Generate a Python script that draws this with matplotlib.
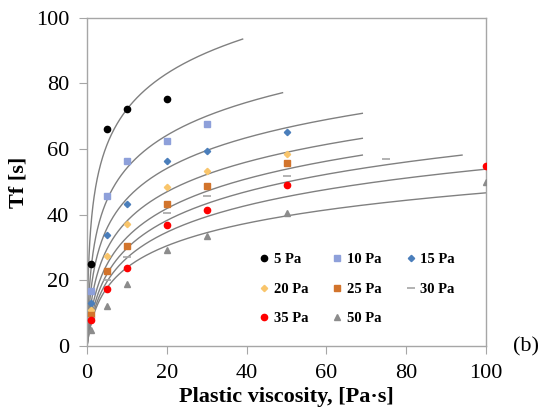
import numpy as np
import matplotlib
matplotlib.use("Agg")
import matplotlib.pyplot as plt

plt.rcParams['font.family'] = ['Liberation Serif', 'DejaVu Serif']

# measured points: plastic viscosity [Pa.s] vs flow time Tf [s]
x_5 = [1, 5, 10, 20]
y_5 = [25.0, 66.2, 72.2, 75.2]
x_10 = [1, 5, 10, 20, 30]
y_10 = [16.8, 45.8, 56.3, 62.6, 67.6]
x_15 = [1, 5, 10, 20, 30, 50]
y_15 = [13.0, 33.8, 43.3, 56.5, 59.5, 65.2]
x_20 = [1, 5, 10, 20, 30, 50]
y_20 = [11.0, 27.4, 37.1, 48.6, 53.4, 58.5]
x_25 = [1, 5, 10, 20, 30, 50]
y_25 = [9.5, 22.9, 30.5, 43.3, 48.9, 55.7]
x_30 = [1, 5, 10, 20, 30, 50, 75]
y_30 = [8.5, 20.1, 27.2, 40.5, 45.7, 51.8, 56.9]
x_35 = [1, 5, 10, 20, 30, 50, 100]
y_35 = [7.9, 17.4, 23.9, 36.9, 41.5, 49.1, 55.0]
x_50 = [1, 5, 10, 20, 30, 50, 100]
y_50 = [5.0, 12.3, 18.9, 29.3, 33.5, 40.4, 50.1]

labels = ['5 Pa', '10 Pa', '15 Pa', '20 Pa', '25 Pa', '30 Pa', '35 Pa', '50 Pa']

# model curves  Tf = p * ln(1 + mu / k), drawn up to mu_end
curve_p = [15.8, 14.6, 13.7, 13.4, 13.5, 13.25, 12.3, 10.3]
curve_k = [0.105, 0.249, 0.392, 0.618, 0.939, 1.178, 1.266, 1.086]
curve_end = [39, 49, 69, 69, 69, 94, 100, 100]

series = [(x_5, y_5), (x_10, y_10), (x_15, y_15), (x_20, y_20),
          (x_25, y_25), (x_30, y_30), (x_35, y_35), (x_50, y_50)]
styles = [
    dict(marker='o', color='black', ms=4.5),
    dict(marker='s', color='#8EA0DA', ms=4.5),
    dict(marker='D', color='#4A7EBB', ms=3.2),
    dict(marker='D', color='#F9C56B', ms=3.2),
    dict(marker='s', color='#D2742C', ms=4.5),
    dict(marker='_', color='#A6A6A6', ms=6, mew=1.2),
    dict(marker='o', color='#FF0000', ms=4.5),
    dict(marker='^', color='#8C8C8C', ms=4),
]

fig = plt.figure(figsize=(5.51, 4.15), dpi=100)
ax = fig.add_axes([0.158, 0.166, 0.724, 0.791])

for p, k, xe in zip(curve_p, curve_k, curve_end):
    mu = np.linspace(0, xe, 400)
    ax.plot(mu, p * np.log1p(mu / k), color='#808080', lw=1.0, zorder=1)

handles = []
for (xs, ys), lab, st in zip(series, labels, styles):
    (h,) = ax.plot(xs, ys, ls='none', label=lab, zorder=3, **st)
    handles.append(h)

ax.set_xlim(0, 100)
ax.set_ylim(0, 100)
ax.set_xticks([0, 20, 40, 60, 80, 100])
ax.set_yticks([0, 20, 40, 60, 80, 100])
for s in ax.spines.values():
    s.set_color('#A6A6A6')
    s.set_linewidth(1.0)
ax.tick_params(direction='out', length=6, color='#A6A6A6', labelsize=16)
ax.tick_params(axis='x', pad=7)
ax.tick_params(axis='y', pad=7)

ax.set_xlabel('Plastic viscosity, [Pa·s]', fontsize=16, fontweight='bold', labelpad=3)
ax.set_ylabel('Tf [s]', fontsize=16, fontweight='bold', labelpad=5)

# row-major legend order (matplotlib fills columns first)
order = [0, 3, 6, 1, 4, 7, 2, 5]
ax.legend([handles[i] for i in order], [labels[i] for i in order],
          ncol=3, loc='upper left', bbox_to_anchor=(0.415, 0.305),
          frameon=False, handlelength=0.6, handletextpad=0.35,
          columnspacing=1.7, labelspacing=1.1, borderpad=0,
          prop={'weight': 'bold', 'size': 10.5})

fig.text(0.931, 0.164, '(b)', fontsize=16, ha='left', va='center')

fig.savefig('out.png', dpi=100)
